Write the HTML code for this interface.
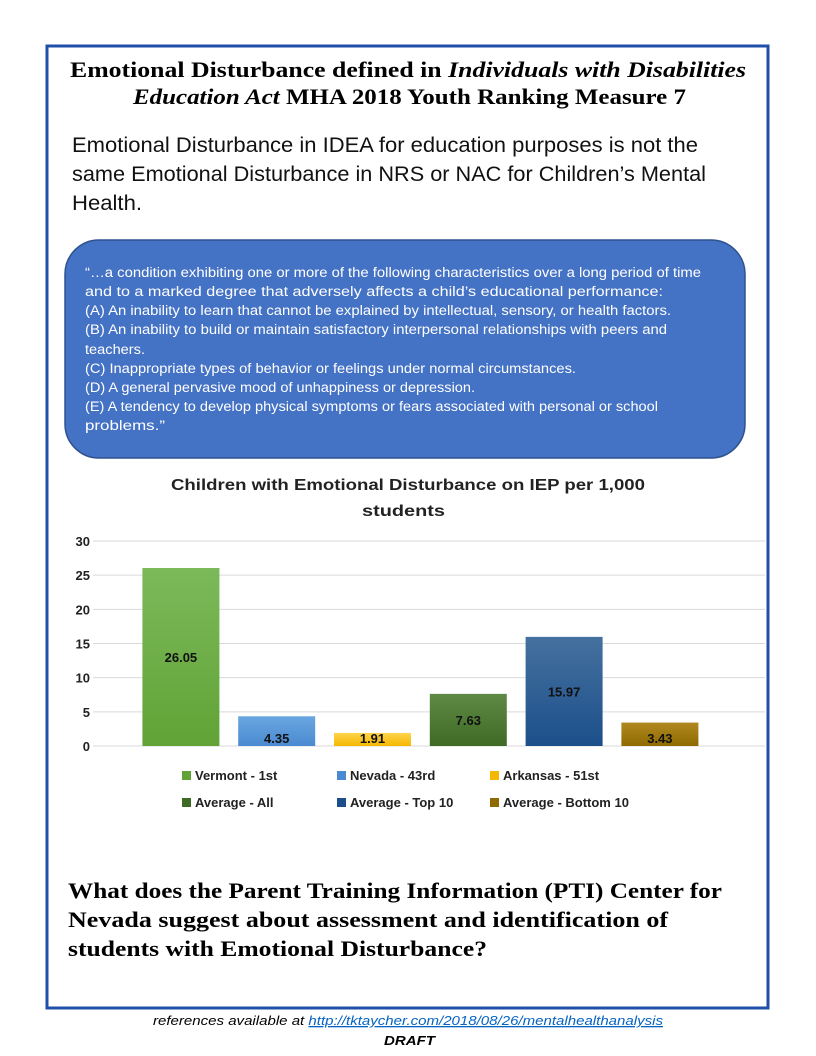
<!DOCTYPE html>
<html><head><meta charset="utf-8"><style>
html,body{margin:0;padding:0;background:#fff;}
svg{display:block;}
.serif{font-family:"Liberation Serif",serif;font-weight:bold;}
.sans{font-family:"Liberation Sans",sans-serif;}
</style></head><body>
<svg id="pg" width="816" height="1056" viewBox="0 0 816 1056" xmlns="http://www.w3.org/2000/svg">
<rect x="47" y="46" width="721" height="962" fill="none" stroke="#1f4fa8" stroke-width="3"/>
<g class="serif" font-size="22" fill="#000">
<text x="70" y="77" textLength="676" lengthAdjust="spacingAndGlyphs">Emotional Disturbance defined in <tspan font-style="italic">Individuals with Disabilities</tspan></text>
<text x="133" y="104" textLength="553" lengthAdjust="spacingAndGlyphs"><tspan font-style="italic">Education Act</tspan> MHA 2018 Youth Ranking Measure 7</text>
</g>
<g class="sans" font-size="21" fill="#111">
<text x="72" y="152" textLength="626" lengthAdjust="spacingAndGlyphs">Emotional Disturbance in IDEA for education purposes is not the</text>
<text x="72" y="181" textLength="634" lengthAdjust="spacingAndGlyphs">same Emotional Disturbance in NRS or NAC for Children’s Mental</text>
<text x="72" y="210" textLength="70" lengthAdjust="spacingAndGlyphs">Health.</text>
</g>
<rect x="65" y="240" width="680" height="218" rx="34" fill="#4472c4" stroke="#2f528f" stroke-width="1.5"/>
<g class="sans" font-size="13.5" fill="#fff">
<text x="85" y="277" textLength="616" lengthAdjust="spacingAndGlyphs">“…a condition exhibiting one or more of the following characteristics over a long period of time</text>
<text x="85" y="296" textLength="578" lengthAdjust="spacingAndGlyphs">and to a marked degree that adversely affects a child’s educational performance:</text>
<text x="85" y="315" textLength="586" lengthAdjust="spacingAndGlyphs">(A) An inability to learn that cannot be explained by intellectual, sensory, or health factors.</text>
<text x="85" y="334" textLength="582" lengthAdjust="spacingAndGlyphs">(B) An inability to build or maintain satisfactory interpersonal relationships with peers and</text>
<text x="85" y="354" textLength="60" lengthAdjust="spacingAndGlyphs">teachers.</text>
<text x="85" y="373" textLength="491" lengthAdjust="spacingAndGlyphs">(C) Inappropriate types of behavior or feelings under normal circumstances.</text>
<text x="85" y="392" textLength="390" lengthAdjust="spacingAndGlyphs">(D) A general pervasive mood of unhappiness or depression.</text>
<text x="85" y="411" textLength="573" lengthAdjust="spacingAndGlyphs">(E) A tendency to develop physical symptoms or fears associated with personal or school</text>
<text x="85" y="430" textLength="80" lengthAdjust="spacingAndGlyphs">problems.”</text>
</g>
<g class="sans" font-size="16" font-weight="bold" fill="#222">
<text x="171" y="490" textLength="474" lengthAdjust="spacingAndGlyphs">Children with Emotional Disturbance on IEP per 1,000</text>
<text x="362" y="516" textLength="83" lengthAdjust="spacingAndGlyphs">students</text>
</g>
<g id="chart"></g>
<g class="serif" font-size="22" fill="#000">
<text x="68" y="898" textLength="654" lengthAdjust="spacingAndGlyphs">What does the Parent Training Information (PTI) Center for</text>
<text x="68" y="927" textLength="600" lengthAdjust="spacingAndGlyphs">Nevada suggest about assessment and identification of</text>
<text x="68" y="956" textLength="419" lengthAdjust="spacingAndGlyphs">students with Emotional Disturbance?</text>
</g>
<text x="153" y="1025" class="sans" font-size="13" font-style="italic" textLength="510" lengthAdjust="spacingAndGlyphs">references available at <tspan fill="#0563c1" text-decoration="underline">http://tktaycher.com/2018/08/26/mentalhealthanalysis</tspan></text>
<text x="384" y="1045" class="sans" font-size="13" font-style="italic" font-weight="bold" textLength="51" lengthAdjust="spacingAndGlyphs">DRAFT</text>
</svg>
<script>
const categories = ["Vermont - 1st","Nevada - 43rd","Arkansas - 51st","Average - All","Average - Top 10","Average - Bottom 10"];
const values = [26.05, 4.35, 1.91, 7.63, 15.97, 3.43];
const labels = ["26.05","4.35","1.91","7.63","15.97","3.43"];
const ticks = [0,5,10,15,20,25,30];
const colorsTop = ["#7cb95a","#6aa6e0","#ffd34d","#5f8a45","#45719f","#b08a20"];
const colorsBot = ["#61a336","#4a8ad0","#f5b800","#3e6a25","#1c4f8a","#8f6a00"];
const NS = "http://www.w3.org/2000/svg";
const g = document.getElementById('chart');
const x0 = 93, x1 = 765, yZero = 746, yTop = 541, yMax = 30;
const y = v => yZero - (v / yMax) * (yZero - yTop);
const slot0 = 133, slotW = 95.8, barW = 77;
const xc = i => slot0 + slotW * (i + 0.5);
function mk(tag, attrs){const e=document.createElementNS(NS,tag);for(const k in attrs)e.setAttribute(k,attrs[k]);g.appendChild(e);return e;}
const defs = document.createElementNS(NS,'defs'); g.appendChild(defs);
ticks.forEach(t=>{
  const l = mk('line',{x1:x0,x2:x1,y1:y(t),y2:y(t),stroke:'#d9d9d9','stroke-width':1});
  
  
  const tx = mk('text',{x:90,y:y(t)+5,'text-anchor':'end','font-family':'Liberation Sans, sans-serif','font-size':13,'font-weight':'bold',fill:'#222'});
  tx.textContent = t;
  
  
});
values.forEach((v,i)=>{
  const gr = document.createElementNS(NS,'linearGradient');
  gr.setAttribute('id','gr'+i);gr.setAttribute('x1','0');gr.setAttribute('y1','0');gr.setAttribute('x2','0');gr.setAttribute('y2','1');
  gr.innerHTML = '<stop offset="0" stop-color="'+colorsTop[i]+'"/><stop offset="1" stop-color="'+colorsBot[i]+'"/>';
  defs.appendChild(gr);
  const r = mk('rect',{x:xc(i)-barW/2,y:y(v),width:barW,height:yZero-y(v),fill:'url(#gr'+i+')'});
  
  
  const ly = (v > 6 ? (y(v)+yZero)/2 : yZero - 8) + 5;
  const t = mk('text',{x:xc(i),y:ly,'text-anchor':'middle','font-family':'Liberation Sans, sans-serif','font-size':13,'font-weight':'bold',fill:'#111'});
  t.textContent = labels[i];
  
  
});
const legX = [182,337,490], legY = [776,803];
categories.forEach((c,i)=>{
  const lx = legX[i%3], ly = legY[Math.floor(i/3)];
  const s = mk('rect',{x:lx,y:ly-5,width:9,height:9,fill:colorsBot[i]});
  
  
  const t = mk('text',{x:lx+13,y:ly+4,'font-family':'Liberation Sans, sans-serif','font-size':13,'font-weight':'bold',fill:'#222'});
  t.textContent = c;
  
  
});
</script>
</body></html>
